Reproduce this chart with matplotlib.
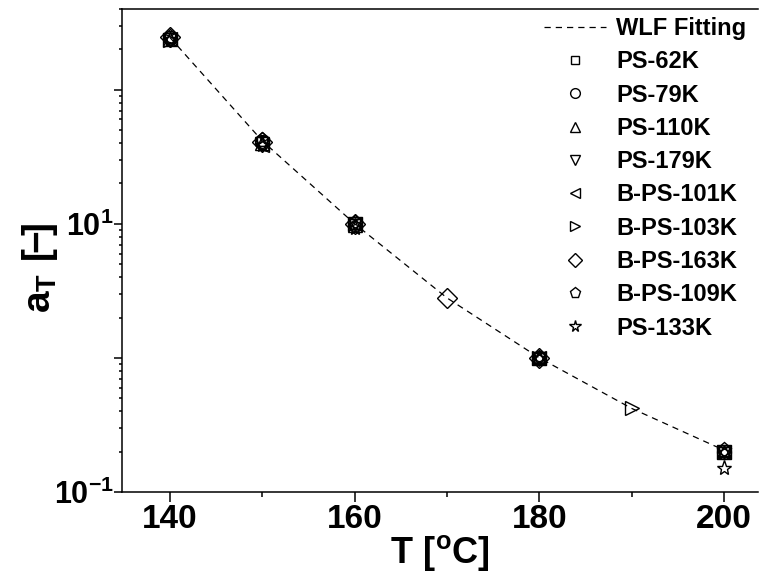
import matplotlib
matplotlib.use("Agg")
import matplotlib.pyplot as plt
from matplotlib import font_manager
from matplotlib.ticker import FixedLocator, FixedFormatter, NullFormatter

# ---------------- data ----------------
fit_T = [140, 150, 160, 170, 180, 190, 200]
fit_aT = [245, 41.5, 10.0, 2.8, 1.0, 0.42, 0.205]

labels = ["PS-62K", "PS-79K", "PS-110K", "PS-179K", "B-PS-101K",
          "B-PS-103K", "B-PS-163K", "B-PS-109K", "PS-133K"]
markers = ["s", "o", "^", "v", "<", ">", "D", "p", "*"]

T_ps62 = [140, 150, 160, 180, 200]
a_ps62 = [245, 41.5, 10.0, 1.0, 0.20]
T_ps79 = [140, 150, 160, 180, 200]
a_ps79 = [243, 41.0, 10.0, 0.99, 0.20]
T_ps110 = [140, 150, 160, 180, 200]
a_ps110 = [240, 40.0, 9.8, 1.0, 0.20]
T_ps179 = [140, 150, 160, 180, 200]
a_ps179 = [235, 39.5, 10.0, 0.98, 0.20]
T_bps101 = [140, 150, 160, 180, 200]
a_bps101 = [238, 38.5, 10.0, 1.0, 0.20]
T_bps103 = [140, 160, 180, 190, 200]
a_bps103 = [236, 9.9, 1.0, 0.42, 0.20]
T_bps163 = [140, 150, 160, 170, 180]
a_bps163 = [248, 41.0, 10.0, 2.8, 1.0]
T_bps109 = [140, 150, 160, 180, 200]
a_bps109 = [247, 42.0, 10.1, 1.0, 0.205]
T_ps133 = [140, 150, 160, 180, 200]
a_ps133 = [238, 38.5, 9.3, 1.0, 0.15]

series_T = [T_ps62, T_ps79, T_ps110, T_ps179, T_bps101, T_bps103, T_bps163, T_bps109, T_ps133]
series_a = [a_ps62, a_ps79, a_ps110, a_ps179, a_bps101, a_bps103, a_bps163, a_bps109, a_ps133]

xticks_major = [140, 160, 180, 200]
xticks_minor = [150, 170, 190]
yticks_major = [0.1, 1, 10, 100]
ytick_labels = [r"$\mathbf{10^{-1}}$", "", r"$\mathbf{10^{1}}$", ""]

# ---------------- fonts ----------------
names = {f.name for f in font_manager.fontManager.ttflist}
narrow = "Liberation Sans Narrow" if "Liberation Sans Narrow" in names else "Liberation Sans"
plt.rcParams["font.family"] = [narrow, "DejaVu Sans"]
plt.rcParams["font.weight"] = "bold"
plt.rcParams["mathtext.fontset"] = "custom"
plt.rcParams["mathtext.bf"] = narrow + ":bold"
plt.rcParams["mathtext.rm"] = narrow + ":bold"
plt.rcParams["mathtext.it"] = narrow + ":bold"

fig = plt.figure(figsize=(7.59, 5.74), dpi=100)
ax = fig.add_axes([122 / 759, 1 - 492 / 574, (759 - 122) / 759 - 0.001, (492 - 9) / 574])

ax.plot(fit_T, fit_aT, ls=(0, (5, 4)), color="black", lw=0.9, label="WLF Fitting", zorder=2)
sizes = {"s": 7, "o": 10, "^": 10, "v": 10, "<": 10, ">": 10, "D": 10, "p": 11, "*": 11}
leg_sizes = {"s": 6, "o": 7, "^": 7.5, "v": 7.5, "<": 7.5, ">": 7.5, "D": 7, "p": 8, "*": 8.5}
for T, a, m, lab in zip(series_T, series_a, markers, labels):
    ax.plot(T, a, ls="none", marker=m, ms=sizes[m], mfc="none", mec="black", mew=1.0,
            label=lab, zorder=3)

ax.set_yscale("log")
ax.set_xlim(134.8, 203.7)
ax.set_ylim(0.1, 400)

ax.xaxis.set_major_locator(FixedLocator(xticks_major))
ax.xaxis.set_minor_locator(FixedLocator(xticks_minor))
ax.yaxis.set_major_locator(FixedLocator(yticks_major))
ax.yaxis.set_major_formatter(FixedFormatter(ytick_labels))
minor_y = [m * 10.0 ** e for e in range(-1, 3) for m in range(2, 10)]
ax.yaxis.set_minor_locator(FixedLocator(minor_y))
ax.yaxis.set_minor_formatter(NullFormatter())

ax.tick_params(axis="x", which="major", direction="out", length=7, width=1.1,
               labelsize=24, pad=2)
ax.tick_params(axis="x", which="minor", direction="out", length=3.5, width=1.1)
ax.tick_params(axis="y", which="major", direction="out", length=6, width=1.1,
               labelsize=22, pad=0)
ax.tick_params(axis="y", which="minor", direction="out", length=2.5, width=1.1)

for s in ("left", "bottom", "top"):
    ax.spines[s].set_linewidth(1.1)
ax.spines["right"].set_visible(False)

ax.set_xlabel(r"$\mathbf{T\ [^{o}C]}$", fontsize=26, labelpad=-2)
ax.set_ylabel(r"$\mathbf{a_T\ [\!\!-\!\!]}$", fontsize=28)
ax.yaxis.set_label_coords((60 - 122) / 637, (492 - 268) / 483)

leg = ax.legend(loc="upper right", bbox_to_anchor=(1.0, 1.008), frameon=False,
                prop={"family": "Liberation Sans", "weight": "bold", "size": 17},
                handlelength=2.6, handletextpad=0.45,
                labelspacing=0.436, borderaxespad=0.1)
for h, m in zip(leg.legend_handles[1:], markers):
    h.set_markersize(leg_sizes[m])

fig.savefig("out.png", dpi=100)
